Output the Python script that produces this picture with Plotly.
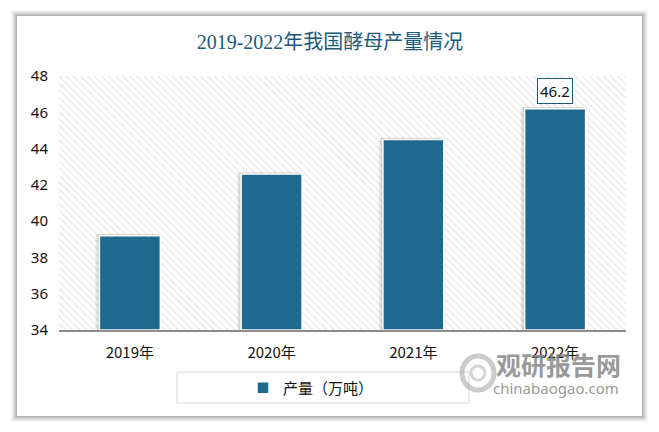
import plotly.graph_objects as go

categories = ["2019年", "2020年", "2021年", "2022年"]
production = [39.2, 42.6, 44.5, 46.2]
y_ticks = [34, 36, 38, 40, 42, 44, 46, 48]
series_name = "产量（万吨）"
title_text = "2019-2022年我国酵母产量情况"

BAR = "#1c6a8e"
xpos = list(range(len(categories)))

# page body has an 8px margin: figure drawn at (8,8); paper coords below use reference pixels
PL, PT, PW, PH = 59, 76, 567, 254


def px(x):
    return (x - PL) / PW


def py(y):
    return (PT + PH - y) / PH


fig = go.Figure()

# hatched plot background
fig.add_trace(go.Bar(
    x=[(len(categories) - 1) / 2], y=[y_ticks[-1] - y_ticks[0]], base=[y_ticks[0]],
    width=[len(categories)],
    marker=dict(color="white", line=dict(width=0),
                pattern=dict(shape="\\", fgcolor="#cfcfcf", bgcolor="white", size=5, solidity=0.25)),
    showlegend=False, hoverinfo="skip",
))

# soft shadow behind bars
for off, op in [(-0.03, 0.05), (-0.02, 0.07), (-0.01, 0.09)]:
    fig.add_trace(go.Bar(
        x=[p + off for p in xpos], y=[v - y_ticks[0] + 0.08 for v in production], base=y_ticks[0],
        width=0.43, marker=dict(color=f"rgba(0,0,0,{op})", line=dict(width=0)),
        showlegend=False, hoverinfo="skip",
    ))

fig.add_trace(go.Bar(
    x=xpos, y=[v - y_ticks[0] for v in production], base=y_ticks[0],
    width=0.43, name=series_name,
    marker=dict(color=BAR, line=dict(color="white", width=1.5)),
))

# card with shadow
shapes = []
for i, op in enumerate([0.03, 0.04, 0.05, 0.06, 0.07, 0.08]):
    d = 6 - i
    shapes.append(dict(type="rect", xref="paper", yref="paper",
                       x0=px(17 - d), x1=px(642 + d), y0=py(416 + d), y1=py(16 - d),
                       fillcolor=f"rgba(0,0,0,{op})", line=dict(width=0), layer="below"))
shapes.append(dict(type="rect", xref="paper", yref="paper",
                   x0=px(17), x1=px(642), y0=py(416), y1=py(16),
                   fillcolor="white", line=dict(width=0), layer="below"))
# legend box
shapes.append(dict(type="rect", xref="paper", yref="paper",
                   x0=px(177), x1=px(469), y0=py(403), y1=py(372),
                   fillcolor="rgba(0,0,0,0)", line=dict(color="#d4d4d4", width=1)))
# watermark logo approximation
shapes.append(dict(type="circle", xref="paper", yref="paper",
                   x0=px(462), x1=px(494), y0=py(390), y1=py(356),
                   fillcolor="rgba(0,0,0,0)", line=dict(color="rgba(160,160,160,0.55)", width=5)))
shapes.append(dict(type="circle", xref="paper", yref="paper",
                   x0=px(471), x1=px(485), y0=py(380), y1=py(366),
                   fillcolor="rgba(0,0,0,0)", line=dict(color="rgba(170,170,170,0.5)", width=3)))

annotations = [
    dict(x=xpos[-1], y=production[-1], yref="y", xref="x", text=f"{production[-1]}",
         showarrow=False, yshift=18, font=dict(size=15, color="#111", family="Noto Sans, Noto Sans CJK SC"),
         bordercolor="#1c5a78", borderwidth=1, borderpad=2, bgcolor="white"),
    dict(xref="paper", yref="paper", x=px(623), y=py(364), xanchor="right", yanchor="middle",
         text="<b>观研报告网</b>", showarrow=False,
         font=dict(size=25, color="rgba(125,125,125,0.8)", family="Noto Sans CJK SC")),
    dict(xref="paper", yref="paper", x=px(621), y=py(388), xanchor="right", yanchor="middle",
         text="chinabaogao.com", showarrow=False,
         font=dict(size=15, color="rgba(125,125,125,0.8)", family="Noto Sans, DejaVu Sans")),
]

fig.update_layout(
    width=651, height=424,
    margin=dict(l=PL - 8, r=33, t=PT - 8, b=102),
    paper_bgcolor="white", plot_bgcolor="rgba(0,0,0,0)",
    barmode="overlay",
    title=dict(text=title_text, x=px(330), xref="paper", xanchor="center", y=1 - 34 / 424, yanchor="middle",
               font=dict(size=20, color="#1b5a78", family="Liberation Serif, Noto Sans CJK SC")),
    xaxis=dict(range=[-0.5, len(categories) - 0.5], tickvals=xpos, ticktext=categories,
               showgrid=False, zeroline=False, showline=True, linecolor="#8c8c8c", linewidth=1.5,
               ticks="", tickfont=dict(size=15, color="#111", family="Noto Sans CJK SC"), ticklabelstandoff=8),
    yaxis=dict(range=[y_ticks[0], y_ticks[-1]], tickvals=y_ticks, showgrid=False, zeroline=False,
               showline=False, ticks="", ticklabelstandoff=10,
               tickfont=dict(size=15, color="#111", family="Noto Sans, Noto Sans CJK SC")),
    showlegend=True,
    legend=dict(orientation="h", x=px(243), y=py(388), xanchor="left", yanchor="middle",
                bgcolor="rgba(0,0,0,0)", font=dict(size=15, color="#111", family="Noto Sans CJK SC"),
                itemwidth=30),
    shapes=shapes, annotations=annotations,
)

fig.write_html("out.html")
